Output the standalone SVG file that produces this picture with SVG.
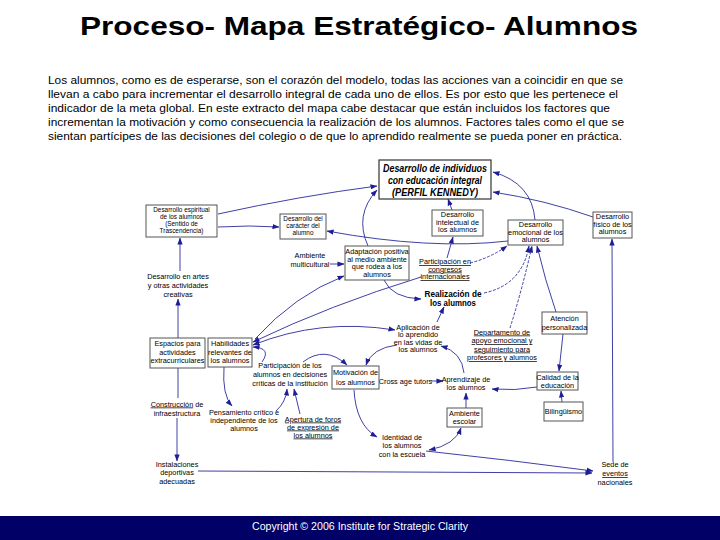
<svg xmlns="http://www.w3.org/2000/svg" width="720" height="540" viewBox="0 0 720 540">
<style>
.t{font-family:"Liberation Sans Narrow","Liberation Sans",Arial,sans-serif;font-size:7.3px;fill:#000;text-anchor:middle}
.s{font-size:6.4px}
.u{text-decoration:underline}
.box{fill:#fff;stroke:#555;stroke-width:1}
.c{fill:none;stroke:#2a2a9c;stroke-width:0.9}
.d{stroke-dasharray:3,1.5}
.p{font-family:"Liberation Sans",Arial,sans-serif;font-size:11.5px;fill:#000}
</style>
<defs>
<marker id="a" viewBox="0 0 8 6" refX="7.5" refY="3" markerWidth="7" markerHeight="5.5" markerUnits="userSpaceOnUse" orient="auto-start-reverse">
<path d="M0,0 L8,3 L0,6 z" fill="#1e1e96"/>
</marker>
</defs>
<rect width="720" height="540" fill="#fff"/>
<text x="359" y="35" font-family="'Liberation Sans',Arial,sans-serif" font-size="25" font-weight="bold" text-anchor="middle" textLength="558" lengthAdjust="spacingAndGlyphs">Proceso- Mapa Estratégico- Alumnos</text>
<g id="intro">
<text class="p" x="48" y="84" textLength="575" lengthAdjust="spacingAndGlyphs">Los alumnos, como es de esperarse, son el corazón del modelo, todas las acciones van a coincidir en que se</text>
<text class="p" x="48" y="98" textLength="570" lengthAdjust="spacingAndGlyphs">llevan a cabo para incrementar el desarrollo integral de cada uno de ellos. Es por esto que les pertenece el</text>
<text class="p" x="48" y="112" textLength="562" lengthAdjust="spacingAndGlyphs">indicador de la meta global. En este extracto del mapa cabe destacar que están incluidos los factores que</text>
<text class="p" x="48" y="126" textLength="576" lengthAdjust="spacingAndGlyphs">incrementan la motivación y como consecuencia la realización de los alumnos. Factores tales como el que se</text>
<text class="p" x="48" y="140" textLength="574" lengthAdjust="spacingAndGlyphs">sientan partícipes de las decisiones del colegio o de que lo aprendido realmente se pueda poner en práctica.</text>
</g>
<g id="connectors">
<path class="c" d="M218,214 Q300,196 377,186" marker-end="url(#a)"/>
<path class="c" d="M218,227 Q250,225 279,227" marker-end="url(#a)"/>
<path class="c" d="M508,241 Q430,250 327,231" marker-end="url(#a)"/>
<path class="c" d="M368,246 Q354,215 377,190" marker-end="url(#a)"/>
<path class="c" d="M452,210 L448,199" marker-end="url(#a)"/>
<path class="c" d="M535,220 Q532,183 493,172" marker-end="url(#a)"/>
<path class="c" d="M593,217 Q545,200 493,192" marker-end="url(#a)"/>
<path class="c" d="M447,258 L453,237" marker-end="url(#a)"/>
<path class="c d" d="M470,263 Q490,258 507,246" marker-end="url(#a)"/>
<path class="c d" d="M484,293 Q522,285 529,246" marker-end="url(#a)"/>
<path class="c d" d="M510,328 Q522,290 532,246" marker-end="url(#a)"/>
<path class="c" d="M556,312 Q545,280 537,246" marker-end="url(#a)"/>
<path class="c" d="M384,280 Q392,298 421,299" marker-end="url(#a)"/>
<path class="c" d="M330,264 L344,264" marker-end="url(#a)"/>
<path class="c" d="M255,339 Q295,295 344,276" marker-end="url(#a)"/>
<path class="c" d="M421,277 Q330,305 253,342" marker-end="url(#a)"/>
<path class="c" d="M253,345 Q320,318 395,330" marker-start="url(#a)" marker-end="url(#a)"/>
<path class="c" d="M262,362 Q272,348 253,347" marker-end="url(#a)"/>
<path class="c" d="M303,362 Q325,345 347,365" marker-end="url(#a)"/>
<path class="c" d="M397,345 Q372,348 366,365" marker-end="url(#a)"/>
<path class="c" d="M437,322 L444,307" marker-end="url(#a)"/>
<path class="c" d="M464,373 Q462,352 441,346" marker-end="url(#a)"/>
<path class="c" d="M431,381 L443,381" marker-end="url(#a)"/>
<path class="c" d="M466,408 L466,393" marker-end="url(#a)"/>
<path class="c" d="M537,387 Q515,391 492,389" marker-end="url(#a)"/>
<path class="c" d="M563,334 L559,371" marker-end="url(#a)"/>
<path class="c" d="M562,402 L561,391" marker-end="url(#a)"/>
<path class="c" d="M613,462 L612,239" marker-end="url(#a)"/>
<path class="c" d="M426,451 Q510,460 593,471" marker-end="url(#a)"/>
<path class="c" d="M198,471 L592,473" marker-end="url(#a)"/>
<path class="c" d="M354,390 Q356,425 377,437" marker-end="url(#a)"/>
<path class="c" d="M429,450 Q455,445 461,428" marker-start="url(#a)" marker-end="url(#a)"/>
<path class="c" d="M178,338 L178,299" marker-end="url(#a)"/>
<path class="c" d="M180,271 L180,238" marker-end="url(#a)"/>
<path class="c" d="M178,368 L178,398"/>
<path class="c" d="M177,418 L177,461" marker-end="url(#a)"/>
<path class="c" d="M224,367 Q222,395 232,406" marker-end="url(#a)"/>
<path class="c" d="M276,411 Q286,402 287,389" marker-end="url(#a)"/>
<path class="c" d="M300,414 L294,389" marker-end="url(#a)"/>
</g>
<g id="n-individuos">
<rect x="379" y="160" width="112" height="39" fill="#fff" stroke="#333" stroke-width="1.2"/>
<g font-family="'Liberation Sans',Arial,sans-serif" font-weight="bold" font-style="italic" font-size="10.5" text-anchor="middle">
<text x="435" y="172" textLength="104" lengthAdjust="spacingAndGlyphs">Desarrollo de individuos</text>
<text x="435" y="184" textLength="94" lengthAdjust="spacingAndGlyphs">con educación integral</text>
<text x="435" y="196" textLength="86" lengthAdjust="spacingAndGlyphs">(PERFIL KENNEDY)</text>
</g>
</g>
<g id="n-espiritual"><rect class="box" x="146" y="205" width="71" height="32"/>
<text class="t s" x="181.5" y="212">Desarrollo espiritual</text><text class="t s" x="181.5" y="219">de los alumnos</text><text class="t s" x="181.5" y="226">(Sentido de</text><text class="t s" x="181.5" y="233">Trascendencia)</text></g>
<g id="n-caracter"><rect class="box" x="280" y="214" width="46" height="25"/>
<text class="t s" x="303" y="221">Desarrollo del</text><text class="t s" x="303" y="228.2">carácter del</text><text class="t s" x="303" y="235.4">alumno</text></g>
<g id="n-intelectual"><rect class="box" x="432" y="210" width="51" height="26"/>
<text class="t" x="457.5" y="217">Desarrollo</text><text class="t" x="457.5" y="224.5">intelectual de</text><text class="t" x="457.5" y="232">los alumnos</text></g>
<g id="n-emocional"><rect class="box" x="508" y="220" width="55" height="25"/>
<text class="t" x="535.5" y="227">Desarrollo</text><text class="t" x="535.5" y="234.5">emocional de los</text><text class="t" x="535.5" y="242">alumnos</text></g>
<g id="n-fisico"><rect class="box" x="593" y="212" width="39" height="26"/>
<text class="t" x="612.5" y="219">Desarrollo</text><text class="t" x="612.5" y="226.5">físico de los</text><text class="t" x="612.5" y="234">alumnos</text></g>
<g id="n-multicultural"><text class="t" x="310" y="258">Ambiente</text><text class="t" x="310" y="267">multicultural</text></g>
<g id="n-adaptacion"><rect class="box" x="345" y="246" width="64" height="34"/>
<text class="t" x="377" y="254">Adaptación positiva</text><text class="t" x="377" y="261.5">al medio ambiente</text><text class="t" x="377" y="269">que rodea a los</text><text class="t" x="377" y="276.5">alumnos</text></g>
<g id="n-congresos"><text class="t u" x="445" y="264">Participación en</text><text class="t u" x="445" y="271.5">congresos</text><text class="t u" x="445" y="279">internacionales</text></g>
<g id="n-realizacion" font-family="'Liberation Sans',Arial,sans-serif" font-weight="bold" font-size="8.5" text-anchor="middle">
<text x="453" y="296.5" textLength="57" lengthAdjust="spacingAndGlyphs">Realización de</text><text x="453" y="305.5" textLength="46" lengthAdjust="spacingAndGlyphs">los alumnos</text></g>
<g id="n-aplicacion"><text class="t" x="418" y="329.5">Aplicación de</text><text class="t" x="418" y="337">lo aprendido</text><text class="t" x="418" y="344.5">en las vidas de</text><text class="t" x="418" y="352">los alumnos</text></g>
<g id="n-departamento"><text class="t u" x="502" y="334.5">Departamento de</text><text class="t u" x="502" y="343">apoyo emocional y</text><text class="t u" x="502" y="351.5">seguimiento para</text><text class="t u" x="502" y="360">profesores y alumnos</text></g>
<g id="n-atencion"><rect class="box" x="542" y="312" width="45" height="22"/>
<text class="t" x="564.5" y="321">Atención</text><text class="t" x="564.5" y="330">personalizada</text></g>
<g id="n-calidad"><rect class="box" x="537" y="372" width="41" height="18"/>
<text class="t" x="557.5" y="379.5">Calidad de la</text><text class="t" x="557.5" y="387.5">educación</text></g>
<g id="n-bilinguismo"><rect class="box" x="544" y="402" width="39" height="19"/>
<text class="t" x="563.5" y="414">Bilingüismo</text></g>
<g id="n-cross"><text class="t" x="405.5" y="383.5">Cross age tutors</text></g>
<g id="n-aprendizaje"><text class="t" x="466" y="381.5">Aprendizaje de</text><text class="t" x="466" y="390">los alumnos</text></g>
<g id="n-motivacion"><rect class="box" x="332" y="366" width="47" height="23"/>
<text class="t" x="355.5" y="375">Motivación de</text><text class="t" x="355.5" y="384.5">los alumnos</text></g>
<g id="n-escolar"><rect class="box" x="447" y="408" width="35" height="19"/>
<text class="t" x="464.5" y="415.5">Ambiente</text><text class="t" x="464.5" y="424">escolar</text></g>
<g id="n-identidad"><text class="t" x="402" y="439.5">Identidad de</text><text class="t" x="402" y="448">los alumnos</text><text class="t" x="402" y="456.5">con la escuela</text></g>
<g id="n-sede"><text class="t" x="615" y="467">Sede de</text><text class="t u" x="615" y="476">eventos</text><text class="t" x="615" y="484.5">nacionales</text></g>
<g id="n-habilidades"><rect class="box" x="208" y="338" width="44" height="29"/>
<text class="t" x="230" y="346">Habilidades</text><text class="t" x="230" y="354.5">relevantes de</text><text class="t" x="230" y="363">los alumnos</text></g>
<g id="n-espacios"><rect class="box" x="150" y="338" width="55" height="30"/>
<text class="t" x="177.5" y="346">Espacios para</text><text class="t" x="177.5" y="354.5">actividades</text><text class="t" x="177.5" y="363">extracurriculares</text></g>
<g id="n-artes"><text class="t" x="178" y="278.5">Desarrollo en artes</text><text class="t" x="178" y="287.5">y otras actividades</text><text class="t" x="178" y="296.5">creativas</text></g>
<g id="n-decisiones"><text class="t" x="290" y="367.5">Participación de los</text><text class="t" x="290" y="376.5">alumnos en decisiones</text><text class="t" x="290" y="385.5">críticas de la institución</text></g>
<g id="n-construccion"><text class="t" x="177" y="406.5"><tspan class="u">Construcción</tspan> de</text><text class="t" x="177" y="415.5">infraestructura</text></g>
<g id="n-instalaciones"><text class="t" x="177" y="466.5">Instalaciones</text><text class="t" x="177" y="475">deportivas</text><text class="t" x="177" y="483.5">adecuadas</text></g>
<g id="n-pensamiento"><text class="t" x="244" y="414.5">Pensamiento crítico e</text><text class="t" x="244" y="422.5">independiente de los</text><text class="t" x="244" y="430.5">alumnos</text></g>
<g id="n-apertura"><text class="t u" x="313" y="421.5">Apertura de foros</text><text class="t u" x="313" y="429.5">de expresión de</text><text class="t u" x="313" y="437.5">los alumnos</text></g>
<g id="footer">
<rect x="0" y="516" width="720" height="24" fill="#000066"/>
<text x="252" y="530" font-family="'Liberation Sans',Arial,sans-serif" font-size="10" fill="#fff" textLength="216" lengthAdjust="spacingAndGlyphs">Copyright © 2006 Institute for Strategic Clarity</text>
</g>
</svg>
